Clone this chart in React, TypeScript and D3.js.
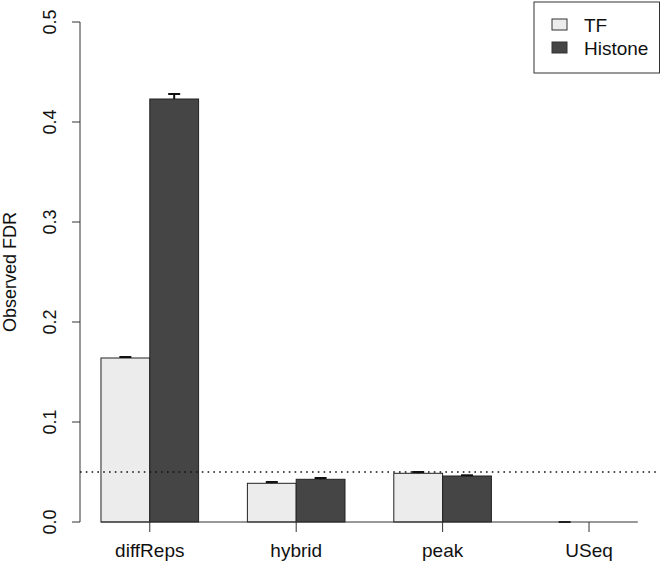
import React from "react";
import * as d3 from "d3";

const categories = ["diffReps", "hybrid", "peak", "USeq"];
const seriesNames = ["TF", "Histone"];
const tfValues = [0.164, 0.0387, 0.0487, 0];
const histoneValues = [0.423, 0.0427, 0.046, 0];
const tfErrors = [0.001, 0.0013, 0.0013, 0];
const histoneErrors = [0.005, 0.0013, 0.0007, null];
const yTicks = [0, 0.1, 0.2, 0.3, 0.4, 0.5];
const fdrLine = 0.05;

const width = 662;
const height = 563;
const fills = ["#ececec", "#454545"];
const font = "'Liberation Sans', Arial, Helvetica, sans-serif";

const App = () => {
  // R barplot coordinates: bars of width 1, one gap between groups
  const x = d3.scaleLinear().domain([0.56, 12.44]).range([79.5, 659.3]);
  const y = d3.scaleLinear().domain([-0.02, 0.52]).range([542, 2]);

  const series = [
    { values: tfValues, errors: tfErrors },
    { values: histoneValues, errors: histoneErrors },
  ];

  const bars = [];
  categories.forEach((c, i) => {
    series.forEach((s, j) => {
      const left = 1 + i * 3 + j;
      bars.push({ key: c + j, left, v: s.values[i], e: s.errors[i], fill: fills[j] });
    });
  });

  const centers = categories.map((c, i) => 2 + i * 3);

  return (
    <div style={{ position: "fixed", top: 0, left: 0 }}>
      <svg width={width} height={height} style={{ display: "block", background: "#fff" }} fontFamily={font}>
        {bars.map(b => (
          <rect
            key={b.key}
            x={x(b.left)}
            y={y(b.v)}
            width={x(b.left + 1) - x(b.left)}
            height={y(0) - y(b.v)}
            fill={b.fill}
            stroke="#222"
            strokeWidth={1}
          />
        ))}
        {bars
          .filter(b => b.e != null)
          .map(b => {
            const cx = x(b.left + 0.5);
            return (
              <g key={"e" + b.key} stroke="#111" strokeWidth={2}>
                <line x1={cx} x2={cx} y1={y(b.v)} y2={y(b.v + b.e)} />
                <line x1={cx - 6} x2={cx + 6} y1={y(b.v + b.e)} y2={y(b.v + b.e)} />
              </g>
            );
          })}

        {/* x axis line with group ticks */}
        <line x1={x(1)} x2={x(12)} y1={y(0)} y2={y(0)} stroke="#333" strokeWidth={1} />
        {centers.map((c, i) => (
          <g key={categories[i]}>
            <line x1={x(c)} x2={x(c)} y1={y(0)} y2={y(0) + 10} stroke="#333" />
            <text x={x(c)} y={557} textAnchor="middle" fontSize={19} fill="#111">
              {categories[i]}
            </text>
          </g>
        ))}

        {/* y axis */}
        <line x1={80} x2={80} y1={y(0)} y2={y(0.5)} stroke="#333" />
        {yTicks.map(t => (
          <g key={t}>
            <line x1={72} x2={80} y1={y(t)} y2={y(t)} stroke="#333" />
            <text
              transform={`translate(56,${y(t)}) rotate(-90)`}
              textAnchor="middle"
              fontSize={18}
              fill="#111"
            >
              {t.toFixed(1)}
            </text>
          </g>
        ))}
        <text transform={`translate(16,272) rotate(-90)`} textAnchor="middle" fontSize={18} fill="#111">
          Observed FDR
        </text>

        {/* dotted reference line */}
        <line
          x1={80}
          x2={660}
          y1={y(fdrLine)}
          y2={y(fdrLine)}
          stroke="#111"
          strokeWidth={1.6}
          strokeDasharray="1.6,4.2"
        />

        {/* legend */}
        <rect x={534} y={2} width={125.5} height={71} fill="#fff" stroke="#333" />
        {seriesNames.map((n, i) => (
          <g key={n}>
            <rect x={552} y={19 + i * 23} width={15} height={11} fill={fills[i]} stroke="#333" />
            <text x={584} y={32 + i * 23} fontSize={19} fill="#111">
              {n}
            </text>
          </g>
        ))}
      </svg>
    </div>
  );
};

export default App;
